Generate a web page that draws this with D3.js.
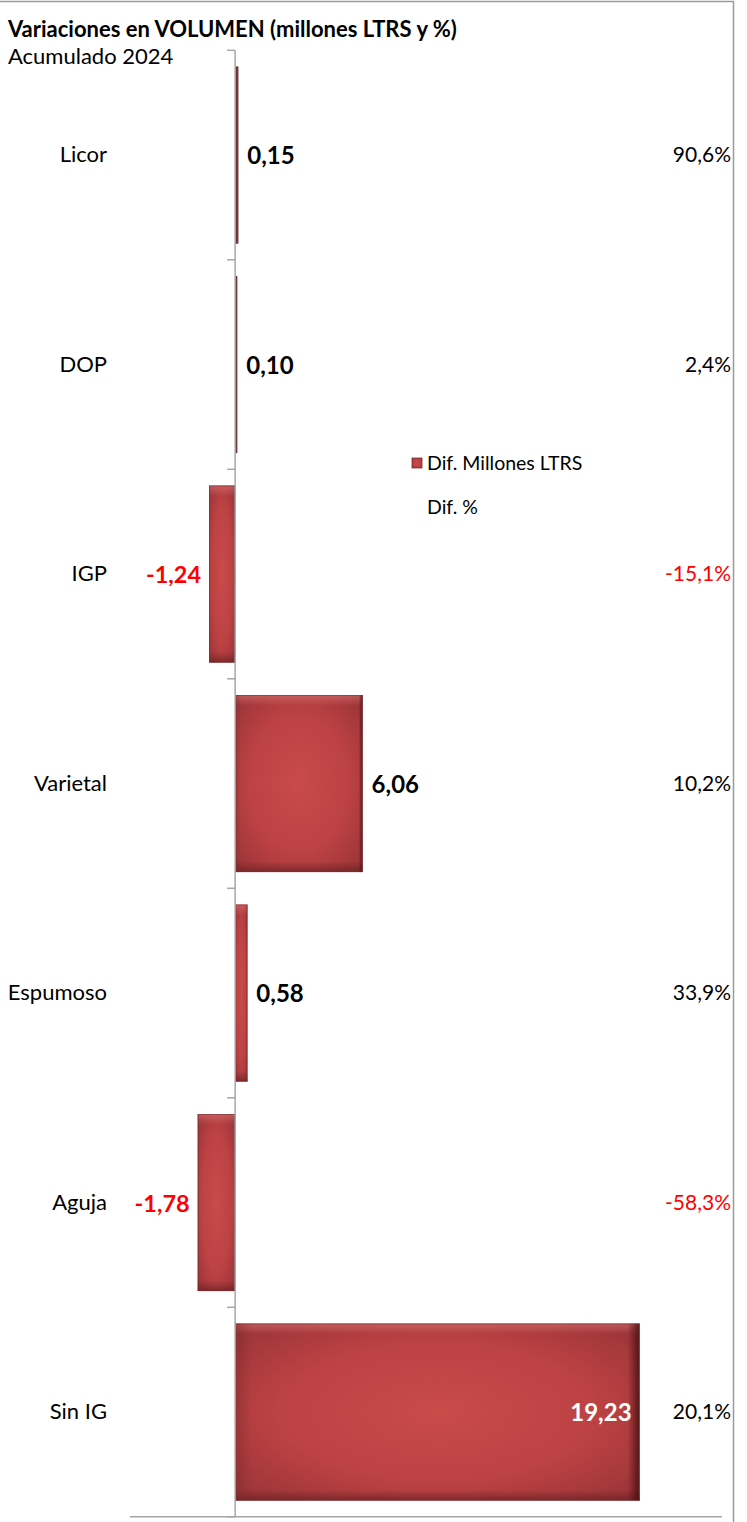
<!DOCTYPE html>
<html>
<head>
<meta charset="utf-8">
<script src="https://cdn.jsdelivr.net/npm/d3@7"></script>
<style>
  html, body { margin: 0; padding: 0; background: #fff; }
  svg { display: block; font-family: Lato, "Open Sans", sans-serif; }
</style>
</head>
<body>
<svg id="chart" width="747" height="1522"></svg>
<script>
const categories = ["Licor", "DOP", "IGP", "Varietal", "Espumoso", "Aguja", "Sin IG"];
const difMillones = [0.15, 0.10, -1.24, 6.06, 0.58, -1.78, 19.23];
const difPct = [90.6, 2.4, -15.1, 10.2, 33.9, -58.3, 20.1];
const legendLabels = ["Dif. Millones LTRS", "Dif. %"];
const titleText = "Variaciones en VOLUMEN (millones LTRS y %)";
const subtitleText = "Acumulado 2024";
const xDomain = [-5, 23.15];

const fmt = v => v.toFixed(2).replace(".", ",");
const fmtPct = v => v.toFixed(1).replace(".", ",") + "%";

const svg = d3.select("#chart");
const W = 747, H = 1522;

// frame
svg.append("rect").attr("x", -2).attr("y", 1.5).attr("width", 735.5).attr("height", H + 10)
  .attr("fill", "#fff").attr("stroke", "#9a9a9a").attr("stroke-width", 1.5);

const x = d3.scaleLinear().domain(xDomain).range([130, 722]);
const y = d3.scaleBand().domain(categories).range([50.3, 1516.8])
  .paddingInner(0.155).paddingOuter(0.0775);

const defs = svg.append("defs");
const rg = defs.append("radialGradient").attr("id", "barGrad")
  .attr("cx", "50%").attr("cy", "50%").attr("r", "70%");
rg.append("stop").attr("offset", "0%").attr("stop-color", "#c94b4a");
rg.append("stop").attr("offset", "55%").attr("stop-color", "#bd4244");
rg.append("stop").attr("offset", "100%").attr("stop-color", "#973336");

const edgeV = defs.append("linearGradient").attr("id", "edgeV").attr("x1", 0).attr("y1", 0).attr("x2", 0).attr("y2", 1);
edgeV.append("stop").attr("offset", "0%").attr("stop-color", "#e07a78").attr("stop-opacity", 0.55);
edgeV.append("stop").attr("offset", "6%").attr("stop-color", "#e07a78").attr("stop-opacity", 0);
edgeV.append("stop").attr("offset", "94%").attr("stop-color", "#5e1c1e").attr("stop-opacity", 0);
edgeV.append("stop").attr("offset", "100%").attr("stop-color", "#5e1c1e").attr("stop-opacity", 0.6);

const edgeH = defs.append("linearGradient").attr("id", "edgeH").attr("x1", 0).attr("y1", 0).attr("x2", 1).attr("y2", 0);
edgeH.append("stop").attr("offset", "0%").attr("stop-color", "#7a2a2c").attr("stop-opacity", 0.45);
edgeH.append("stop").attr("offset", "4%").attr("stop-color", "#7a2a2c").attr("stop-opacity", 0);
edgeH.append("stop").attr("offset", "97%").attr("stop-color", "#4a1012").attr("stop-opacity", 0);
edgeH.append("stop").attr("offset", "100%").attr("stop-color", "#3a0a0c").attr("stop-opacity", 0.8);

const data = categories.map((c, i) => ({ cat: c, v: difMillones[i], p: difPct[i] }));

// title
svg.append("text").attr("x", 8).attr("y", 37).attr("font-size", 22).attr("font-weight", 700)
  .attr("fill", "#000").text(titleText);
svg.append("text").attr("x", 8).attr("y", 64).attr("font-size", 22)
  .attr("fill", "#000").text(subtitleText);

// bars
const bars = svg.append("g");
data.forEach(d => {
  const x0 = x(Math.min(0, d.v)), x1 = x(Math.max(0, d.v));
  const g = bars.append("g");
  const w = x1 - x0, hgt = y.bandwidth(), yy = y(d.cat);
  g.append("rect").attr("x", x0).attr("y", yy).attr("width", w).attr("height", hgt)
    .attr("fill", w < 6 ? "#6e3a3b" : "url(#barGrad)");
  if (w >= 6) {
    g.append("rect").attr("x", x0).attr("y", yy).attr("width", w).attr("height", hgt).attr("fill", "url(#edgeV)");
    g.append("rect").attr("x", x0).attr("y", yy).attr("width", w).attr("height", hgt).attr("fill", "url(#edgeH)");
  }
  g.append("rect").attr("x", x0 + 0.5).attr("y", yy + 0.5).attr("width", Math.max(0, w - 1)).attr("height", hgt - 1)
    .attr("fill", "none").attr("stroke", "#7b3133").attr("stroke-opacity", 0.6).attr("stroke-width", 1);
});

// axes
const axisG = svg.append("g").attr("stroke", "#a6a6a6").attr("stroke-width", 1.5);
axisG.append("line").attr("x1", x(0)).attr("x2", x(0)).attr("y1", y.range()[0]).attr("y2", y.range()[1]);
const bounds = categories.map(c => y(c) - y.step() * y.paddingInner() / 2).concat([y.range()[1]]);
bounds[0] = y.range()[0];
bounds.forEach(b => {
  axisG.append("line").attr("x1", x(0) - 8).attr("x2", x(0)).attr("y1", b).attr("y2", b);
});
axisG.append("line").attr("x1", x.range()[0]).attr("x2", x.range()[1])
  .attr("y1", y.range()[1]).attr("y2", y.range()[1]);

// category labels
svg.append("g").selectAll("text").data(data).join("text")
  .attr("x", 107).attr("y", d => y(d.cat) + y.bandwidth() / 2 + 7)
  .attr("text-anchor", "end").attr("font-size", 22).attr("fill", "#000").text(d => d.cat);

// value labels
svg.append("g").selectAll("text").data(data).join("text")
  .attr("x", d => d.v > 15 ? x(d.v) - 8 : d.v >= 0 ? x(d.v) + 9 : x(d.v) - 8)
  .attr("y", d => y(d.cat) + y.bandwidth() / 2 + 9)
  .attr("text-anchor", d => (d.v > 15 || d.v < 0) ? "end" : "start")
  .attr("font-size", d => d.v < 0 ? 23.5 : 24).attr("font-weight", 700)
  .attr("fill", d => d.v > 15 ? "#fff" : d.v < 0 ? "#ff0000" : "#000")
  .text(d => fmt(d.v));

// percent labels
svg.append("g").selectAll("text").data(data).join("text")
  .attr("x", 731).attr("y", d => y(d.cat) + y.bandwidth() / 2 + 7)
  .attr("text-anchor", "end").attr("font-size", 21)
  .attr("fill", d => d.p < 0 ? "#ff0000" : "#000").text(d => fmtPct(d.p));

// legend
const lg = svg.append("g");
lg.append("rect").attr("x", 412).attr("y", 458).attr("width", 10).attr("height", 10).attr("fill", "url(#barGrad)")
  .attr("stroke", "#7b3133").attr("stroke-width", 0.8);
lg.append("text").attr("x", 427).attr("y", 470).attr("font-size", 19.5).attr("fill", "#000").text(legendLabels[0]);
lg.append("text").attr("x", 427).attr("y", 514).attr("font-size", 19.5).attr("fill", "#000").text(legendLabels[1]);
</script>
</body>
</html>
